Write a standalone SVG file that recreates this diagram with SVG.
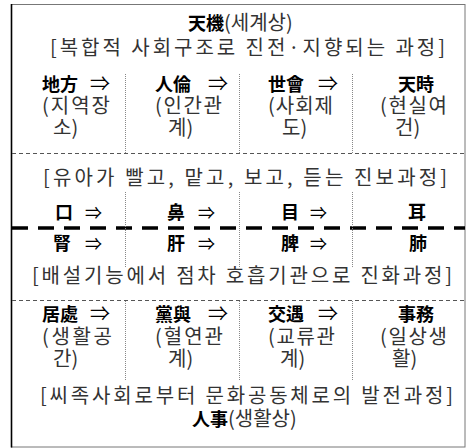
<svg xmlns="http://www.w3.org/2000/svg" width="467" height="448" viewBox="0 0 467 448">
<style>
text{font-family:"Noto Sans CJK KR","Noto Sans",sans-serif;}
.k{font-size:20px;fill:#333;}
.h{font-size:18px;font-weight:bold;fill:#000;}
.a{font-size:20px;fill:#000;}
.b{font-size:17px;fill:#000;}
.thin{stroke:#555;stroke-width:1;stroke-dasharray:4 3;fill:none;}
.thick{stroke:#000;stroke-width:3.5;stroke-dasharray:16 10;fill:none;}
.dot{stroke:#888;stroke-width:1;stroke-dasharray:1 1;fill:none;}
</style>
<rect x="0" y="0" width="467" height="448" fill="#fff"/>
<g id="frame">
<rect x="11.5" y="4.5" width="453.5" height="442.5" fill="none" stroke="#777" stroke-width="1"/>
<line x1="11.5" y1="4" x2="11.5" y2="447.5" stroke="#000" stroke-width="1.6"/>
</g>
<g id="connectors">
<line class="thin" x1="12" y1="153.5" x2="465" y2="153.5"/>
<line class="thick" x1="12" y1="228" x2="465" y2="228"/>
<line class="thin" x1="12" y1="300.5" x2="465" y2="300.5"/>
<line class="dot" x1="125.5" y1="74" x2="125.5" y2="153"/>
<line class="dot" x1="239.5" y1="74" x2="239.5" y2="153"/>
<line class="dot" x1="352.5" y1="74" x2="352.5" y2="153"/>
<line class="dot" x1="125.5" y1="192" x2="125.5" y2="268"/>
<line class="dot" x1="239.5" y1="192" x2="239.5" y2="268"/>
<line class="dot" x1="352.5" y1="192" x2="352.5" y2="268"/>
<line class="dot" x1="125.5" y1="301" x2="125.5" y2="381"/>
<line class="dot" x1="239.5" y1="301" x2="239.5" y2="381"/>
<line class="dot" x1="352.5" y1="301" x2="352.5" y2="381"/>
</g>
<g id="title-top">
<text x="188" y="30"><tspan class="h">天機</tspan><tspan class="k">(세계상)</tspan></text>
<text class="k" x="50" y="55" textLength="395">[복합적 사회구조로 진전·지향되는 과정]</text>
</g>
<g id="n-jibang">
<text x="42" y="91"><tspan class="h">地方</tspan><tspan class="a" x="90">⇒</tspan></text>
<text class="k" x="42" y="113" textLength="68">(지역장</text>
<text class="k" x="53" y="135">소)</text>
</g>
<g id="n-inryun">
<text x="155" y="91"><tspan class="h">人倫</tspan><tspan class="a" x="208">⇒</tspan></text>
<text class="k" x="155" y="113" textLength="67">(인간관</text>
<text class="k" x="168" y="135">계)</text>
</g>
<g id="n-sehoe">
<text x="268" y="91"><tspan class="h">世會</tspan><tspan class="a" x="318">⇒</tspan></text>
<text class="k" x="268" y="113" textLength="65">(사회제</text>
<text class="k" x="282" y="135">도)</text>
</g>
<g id="n-cheonsi">
<text class="h" x="398" y="91">天時</text>
<text class="k" x="380" y="113" textLength="67">(현실여</text>
<text class="k" x="395" y="135">건)</text>
</g>
<g id="caption-mid1">
<text class="k" x="43" y="185" textLength="404">[유아가 빨고, 맡고, 보고, 듣는 진보과정]</text>
</g>
<g id="n-gu"><text x="55" y="219"><tspan class="h">口</tspan><tspan class="b" x="85">⇒</tspan></text></g>
<g id="n-bi"><text x="167" y="219"><tspan class="h">鼻</tspan><tspan class="b" x="198">⇒</tspan></text></g>
<g id="n-mok"><text x="281" y="219"><tspan class="h">目</tspan><tspan class="b" x="310">⇒</tspan></text></g>
<g id="n-i"><text class="h" x="408" y="219">耳</text></g>
<g id="n-sin"><text x="53" y="250"><tspan class="h">腎</tspan><tspan class="b" x="85">⇒</tspan></text></g>
<g id="n-gan"><text x="167" y="250"><tspan class="h">肝</tspan><tspan class="b" x="198">⇒</tspan></text></g>
<g id="n-bi2"><text x="281" y="250"><tspan class="h">脾</tspan><tspan class="b" x="310">⇒</tspan></text></g>
<g id="n-pye"><text class="h" x="409" y="250">肺</text></g>
<g id="caption-mid2">
<text class="k" x="32" y="283" textLength="420">[배설기능에서 점차 호흡기관으로 진화과정]</text>
</g>
<g id="n-geocheo">
<text x="42" y="321"><tspan class="h">居處</tspan><tspan class="a" x="90">⇒</tspan></text>
<text class="k" x="42" y="344" textLength="70">(생활공</text>
<text class="k" x="53" y="366">간)</text>
</g>
<g id="n-dangyeo">
<text x="155" y="321"><tspan class="h">黨與</tspan><tspan class="a" x="208">⇒</tspan></text>
<text class="k" x="155" y="344" textLength="68">(혈연관</text>
<text class="k" x="168" y="366">계)</text>
</g>
<g id="n-gyou">
<text x="268" y="321"><tspan class="h">交遇</tspan><tspan class="a" x="318">⇒</tspan></text>
<text class="k" x="268" y="344" textLength="67">(교류관</text>
<text class="k" x="280" y="366">계)</text>
</g>
<g id="n-samu">
<text class="h" x="398" y="321">事務</text>
<text class="k" x="380" y="344" textLength="67">(일상생</text>
<text class="k" x="392" y="366">활)</text>
</g>
<g id="title-bottom">
<text class="k" x="40" y="403" textLength="413">[씨족사회로부터 문화공동체로의 발전과정]</text>
<text x="192" y="426"><tspan class="h">人事</tspan><tspan class="k">(생활상)</tspan></text>
</g>
</svg>
